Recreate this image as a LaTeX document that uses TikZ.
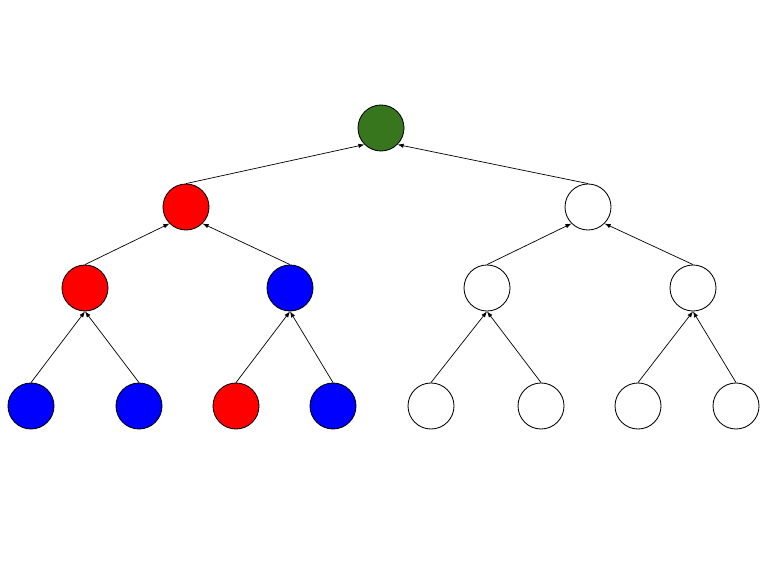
\documentclass[tikz,border=0pt]{standalone}
\usepackage{xcolor}
\usepackage{tikz}
\usetikzlibrary{arrows.meta}
\definecolor{rootgreen}{RGB}{56,118,29}
\definecolor{cred}{RGB}{255,0,0}
\definecolor{cblue}{RGB}{0,0,255}

\begin{document}
\begin{tikzpicture}[x=0.025cm, y=-0.025cm,
		vtx/.style={circle, draw=black, line width=0.6pt, minimum size=1.15cm, inner sep=0pt},
		up/.style={-{Latex[length=1.5mm, width=1.1mm]}, line width=0.5pt}]
		\useasboundingbox (0,0) rectangle (768,576);
		% root
		\node[vtx, fill=rootgreen] (r) at (381,128) {};
		% first level
		\node[vtx, fill=cred] (a) at (186,207) {};
		\node[vtx, fill=white] (b) at (588,207) {};
		% second level
		\node[vtx, fill=cred] (aa) at (85,288) {};
		\node[vtx, fill=cblue] (ab) at (290,288) {};
		\node[vtx, fill=white] (ba) at (487,288) {};
		\node[vtx, fill=white] (bb) at (693,288) {};
		% leaves
		\foreach \n/\x/\c in {aaa/31/cblue, aab/139/cblue, aba/236/cred, abb/333/cblue,
		                       baa/431/white, bab/541/white, bba/638/white, bbb/736/white}
			\node[vtx, fill=\c] (\n) at (\x,406) {};
		% edges, child to parent
		\foreach \c/\p in {a/r.south west, b/r.south east, aa/a.south west, ab/a.south east,
		                   ba/b.south west, bb/b.south east,
		                   aaa/aa.south, aab/aa.south, aba/ab.south, abb/ab.south,
		                   baa/ba.south, bab/ba.south, bba/bb.south, bbb/bb.south}
			\draw[up] (\c.north) -- (\p);
	\end{tikzpicture}
\end{document}
